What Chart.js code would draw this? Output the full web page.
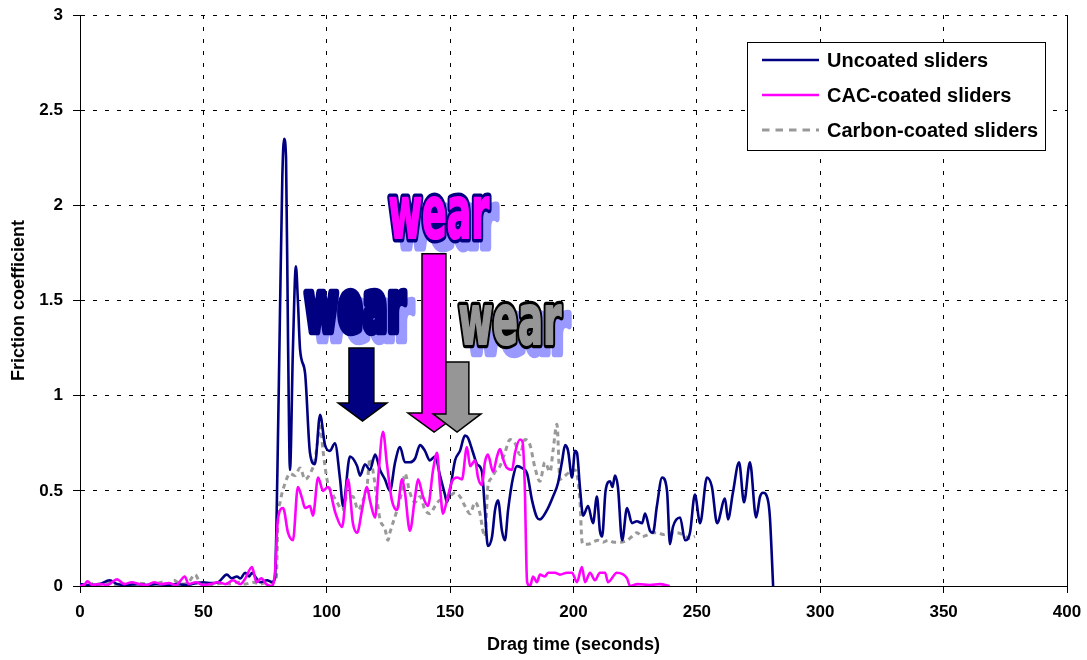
<!DOCTYPE html>
<html>
<head>
<meta charset="utf-8">
<title>Friction coefficient vs drag time</title>
<script src="https://cdn.jsdelivr.net/npm/chart.js@4.4.0/dist/chart.umd.min.js"></script>
<style>
  html, body { margin: 0; padding: 0; background: #ffffff; }
  #wrap { width: 1087px; height: 660px; position: relative; }
</style>
</head>
<body>
<div id="wrap"><canvas id="chart" width="1087" height="660"></canvas></div>
<script>
// ---- measured series (time in seconds, friction coefficient) ----
const uncoatedTime = [0, 4, 8, 12, 15, 19, 23, 27, 31, 35, 39, 43, 47, 50, 53, 56, 59.5, 61.5, 63.6, 65, 66.9, 68.5, 69.7, 71.5, 73, 75.8, 77.8, 79,
  80, 81, 82, 82.7, 83.5, 84.3, 85.1, 86.3, 87.5, 88.3, 89.2, 91.2, 93.2, 95.2, 97.3, 99.3, 101.3, 103.3, 105.4, 106.6, 109.4,
  112.3, 113.5, 115.5, 117.5, 119.6, 121.6, 123.6, 125.6, 127.7, 129.7, 131.7, 133.7, 135.8, 137.8, 139.8, 141.8, 143.9, 145.9,
  147.9, 148.7, 149.9, 152.0, 154.0, 156.0, 157.2, 159.3, 160.9, 162.9, 164.1, 165.3, 167.0, 168.2, 169.4, 171.0, 172.2, 173.5,
  175.5, 177.1, 179.1, 181.2, 183.2, 185.2, 186.4, 189.3, 191.7, 193.7, 195.3, 196.6, 197.8, 199.4, 200.6, 201.4, 202.6, 203.9,
  205.9, 207.9, 209.5, 210.7, 211.6, 213.0, 214.8, 215.8, 216.8, 218.0, 219.7, 221.7, 223.7, 225.7, 227.8, 229.0, 231.0, 232.2,
  233.8, 235.9, 237.9, 239.1, 240.3, 243.2, 245.2, 247.2, 249.2, 251.3, 254.1, 256.1, 258.2, 261.4, 262.6, 264.6, 267.1, 269.1,
  271.5, 274.0, 275.6, 276.8, 278.8, 279.6, 280.9];
const uncoatedFriction = [0.01, 0.005, 0.01, 0.03, 0.01, 0.005, 0.01, 0.005, 0.01, 0.005, 0.01, 0.005, 0.015, 0.02, 0.015, 0.02, 0.06, 0.04, 0.05, 0.04, 0.07, 0.05, 0.07, 0.04, 0.02, 0.03, 0.02, 0.04,
  0.6, 1.4, 2.15, 2.35, 2.25, 1.3, 0.61, 1.25, 1.68, 1.5, 1.24, 1.12, 0.70, 0.64, 0.90, 0.74, 0.71, 0.75, 0.56, 0.42, 0.68,
  0.63, 0.58, 0.64, 0.61, 0.69, 0.61, 0.56, 0.50, 0.65, 0.73, 0.65, 0.65, 0.67, 0.74, 0.71, 0.66, 0.68, 0.58,
  0.48, 0.44, 0.50, 0.66, 0.71, 0.79, 0.78, 0.70, 0.64, 0.60, 0.40, 0.21, 0.26, 0.40, 0.45, 0.29, 0.24, 0.40,
  0.57, 0.63, 0.62, 0.59, 0.45, 0.36, 0.35, 0.40, 0.47, 0.54, 0.65, 0.74, 0.71, 0.57, 0.71, 0.70, 0.52, 0.37,
  0.42, 0.33, 0.47, 0.29, 0.26, 0.50, 0.55, 0.52, 0.58, 0.52, 0.24, 0.41, 0.33, 0.34, 0.33, 0.38, 0.29, 0.28,
  0.42, 0.57, 0.50, 0.22, 0.31, 0.36, 0.24, 0.28, 0.48, 0.33, 0.57, 0.52, 0.33, 0.46, 0.35, 0.49, 0.65, 0.44,
  0.65, 0.36, 0.47, 0.49, 0.45, 0.36, 0.0];

const cacTime = [0, 2, 3, 5, 8, 11, 13, 15, 18, 21, 24, 27, 30, 33, 36, 39, 42.5, 44, 47, 50, 53, 56, 59, 62, 65, 67, 69.7, 71.5, 73.5, 75.5, 77.5, 79.0,
  80.2, 82.3, 84.3, 86.3, 88.3, 90.0, 91.2, 93.2, 94.4, 96.5, 98.5, 100.5, 103.6, 106.2, 108.6, 110.6, 112.3, 114.3, 116.3, 117.5,
  119.6, 120.8, 122.8, 124.4, 126.4, 128.5, 130.5, 131.7, 133.7, 135.8, 137.0, 139.0, 141.0, 143.1, 144.7, 145.9, 147.1, 148.7,
  150.8, 152.8, 154.8, 156.8, 158.1, 160.1, 161.3, 162.9, 164.1, 165.3, 167.4, 169.0, 170.2, 171.4, 173.0, 175.1, 176.3, 178.3,
  179.3, 180.2, 181.2, 182.4, 183.6, 185.2, 186.4, 188.4, 189.7, 192.5, 194.5, 197.4, 199.4, 201.4, 203.4, 204.7, 206.7, 208.7,
  210.7, 212.8, 214.0, 217.6, 221.7, 222.9, 226.0, 231.0, 235.0, 239.0];
const cacFriction = [0.0, 0.01, 0.025, 0.005, 0.01, 0.005, 0.02, 0.035, 0.01, 0.02, 0.01, 0.005, 0.02, 0.01, 0.015, 0.005, 0.05, 0.01, 0.02, 0.005, 0.01, 0.02, 0.01, 0.03, 0.01, 0.04, 0.10, 0.02, 0.04, 0.01, 0.0, 0.07,
  0.35, 0.41, 0.28, 0.24, 0.52, 0.46, 0.41, 0.42, 0.37, 0.57, 0.50, 0.52, 0.38, 0.31, 0.56, 0.33, 0.28, 0.40, 0.52, 0.45,
  0.36, 0.56, 0.81, 0.64, 0.45, 0.40, 0.56, 0.49, 0.29, 0.47, 0.56, 0.47, 0.42, 0.61, 0.70, 0.52, 0.38, 0.45,
  0.55, 0.57, 0.56, 0.73, 0.63, 0.66, 0.57, 0.53, 0.65, 0.69, 0.60, 0.68, 0.72, 0.67, 0.62, 0.61, 0.70, 0.77,
  0.76, 0.55, 0.02, 0.0, 0.05, 0.02, 0.06, 0.05, 0.07, 0.07, 0.06, 0.07, 0.07, 0.02, 0.10, 0.02, 0.07, 0.03,
  0.07, 0.07, 0.02, 0.07, 0.04, 0.0, 0.01, 0.005, 0.01, 0.0];

const carbonTime = [0, 3, 6, 9, 12, 15, 18, 21, 24, 27, 30, 33, 36, 38, 41, 44, 46.6, 49, 52, 55, 58, 61, 64, 67, 70, 73, 76, 78.5, 79.6,
  80.2, 81.1, 83.1, 85.1, 87.1, 89.2, 91.2, 93.2, 95.2, 96.5, 97.3, 98.5, 100.1, 102.1, 104.2, 106.2, 108.2, 110.6, 112.7, 114.7,
  116.3, 117.5, 118.8, 120.4, 121.6, 123.6, 124.8, 125.6, 128.5, 130.5, 131.7, 133.7, 135.8, 137.8, 139.8, 141.8, 143.9, 145.9,
  147.9, 149.9, 152.0, 154.0, 156.0, 158.1, 160.1, 162.1, 163.3, 164.1, 165.3, 167.0, 168.2, 170.2, 172.2, 174.3, 176.3, 178.3,
  180.3, 182.4, 184.4, 186.4, 188.4, 190.5, 191.7, 193.3, 194.5, 196.6, 198.6, 200.6, 202.6, 203.4, 203.9, 205.9, 207.9, 209.9,
  212.0, 214.0, 216.4, 218.8, 221.7, 223.7, 225.7, 227.8, 230.2, 232.2, 234.2, 236.3, 239.1, 241.9, 244.4, 247.2, 249.2];
const carbonFriction = [0.01, 0.0, 0.015, 0.005, 0.02, 0.005, 0.01, 0.0, 0.015, 0.01, 0.005, 0.02, 0.01, 0.03, 0.01, 0.02, 0.06, 0.01, 0.005, 0.01, 0.015, 0.01, 0.02, 0.01, 0.02, 0.01, 0.02, 0.02, 0.05,
  0.35, 0.44, 0.54, 0.59, 0.58, 0.62, 0.56, 0.59, 0.66, 0.78, 0.84, 0.71, 0.56, 0.49, 0.44, 0.40, 0.47, 0.47, 0.40, 0.45,
  0.52, 0.67, 0.60, 0.45, 0.35, 0.30, 0.24, 0.28, 0.40, 0.50, 0.59, 0.49, 0.44, 0.47, 0.40, 0.38, 0.42, 0.45,
  0.44, 0.47, 0.49, 0.47, 0.42, 0.38, 0.44, 0.38, 0.29, 0.26, 0.52, 0.57, 0.60, 0.63, 0.70, 0.77, 0.75, 0.69,
  0.77, 0.74, 0.62, 0.55, 0.65, 0.60, 0.71, 0.85, 0.56, 0.58, 0.60, 0.61, 0.45, 0.24, 0.22, 0.22, 0.23, 0.24,
  0.23, 0.24, 0.23, 0.23, 0.24, 0.26, 0.28, 0.26, 0.27, 0.28, 0.28, 0.27, 0.28, 0.28, 0.27, 0.25, 0.26];

const seriesNames = ['Uncoated sliders', 'CAC-coated sliders', 'Carbon-coated sliders'];
const timeTicks = [0, 50, 100, 150, 200, 250, 300, 350, 400];
const frictionTicks = [0, 0.5, 1, 1.5, 2, 2.5, 3];

const FONT = '"Liberation Sans", Arial, "DejaVu Sans", sans-serif';

function pairs(xs, ys) { return xs.map((x, i) => ({ x: x, y: ys[i] })); }

// ---- "wear" callouts: word art label plus block arrow, placed in data units ----
const wearCallouts = [
  { fill: '#000080', outline: '#000080', text: [90.4, 132.9, 1.555, 1.32],
    arrow: { shaft: [109.0, 119.1], head: [104.6, 124.4], top: 1.25, neck: 0.962, tip: 0.867 } },
  { fill: '#ff00ff', outline: '#000080', text: [124.4, 167.0, 2.055, 1.808],
    arrow: { shaft: [138.6, 148.3], head: [132.9, 154.1], top: 1.745, neck: 0.909, tip: 0.809 } },
  { fill: '#969696', outline: '#000000', text: [152.8, 196.2, 1.492, 1.256],
    arrow: { shaft: [148.3, 157.6], head: [143.1, 162.5], top: 1.177, neck: 0.904, tip: 0.809 } }
];

// Heavy condensed lettering: glyphs are fitted into the box, then thickened by a wide outline stroke.
function drawWordArt(ctx, word, x0, x1, y0, y1, fill, outline, dx, dy) {
  const grow = 2.5;
  x0 += grow; x1 -= grow; y0 += grow; y1 -= grow;
  ctx.save();
  ctx.font = 'bold 80px "Liberation Sans Narrow", "DejaVu Sans Condensed", ' + FONT;
  ctx.textAlign = 'left';
  ctx.textBaseline = 'alphabetic';
  const m = ctx.measureText(word);
  const w = m.actualBoundingBoxLeft + m.actualBoundingBoxRight;
  const h = m.actualBoundingBoxAscent + m.actualBoundingBoxDescent;
  const sx = (x1 - x0) / w, sy = (y1 - y0) / h;
  ctx.translate(x0 + dx + m.actualBoundingBoxLeft * sx, y1 + dy - m.actualBoundingBoxDescent * sy);
  ctx.scale(sx, sy);
  ctx.lineJoin = 'round';
  const k = Math.min(sx, sy);
  ctx.strokeStyle = outline;
  ctx.lineWidth = (grow * 2) / k;
  ctx.strokeText(word, 0, 0);
  ctx.fillStyle = fill;
  ctx.fillText(word, 0, 0);
  if (fill !== outline) {
    ctx.strokeStyle = fill;
    ctx.lineWidth = 1.2 / k;
    ctx.strokeText(word, 0, 0);
  }
  ctx.restore();
}

const wearPlugin = {
  id: 'wearCallouts',
  afterDatasetsDraw(chart) {
    const { ctx, scales: { x, y } } = chart;
    // shadows first, then the letters
    wearCallouts.forEach(c => {
      const [t0, t1, v0, v1] = c.text;
      drawWordArt(ctx, 'wear', x.getPixelForValue(t0), x.getPixelForValue(t1),
        y.getPixelForValue(v0), y.getPixelForValue(v1), '#9999ff', '#9999ff', 8, 9);
    });
    wearCallouts.forEach(c => {
      const [t0, t1, v0, v1] = c.text;
      drawWordArt(ctx, 'wear', x.getPixelForValue(t0), x.getPixelForValue(t1),
        y.getPixelForValue(v0), y.getPixelForValue(v1), c.fill, c.outline, 0, 0);
    });
    wearCallouts.forEach(c => {
      const a = c.arrow;
      const sL = x.getPixelForValue(a.shaft[0]), sR = x.getPixelForValue(a.shaft[1]);
      const hL = x.getPixelForValue(a.head[0]), hR = x.getPixelForValue(a.head[1]);
      const tipX = (hL + hR) / 2;
      const top = y.getPixelForValue(a.top), neck = y.getPixelForValue(a.neck), tip = y.getPixelForValue(a.tip);
      ctx.save();
      ctx.beginPath();
      ctx.moveTo(sL, top);
      ctx.lineTo(sR, top);
      ctx.lineTo(sR, neck);
      ctx.lineTo(hR, neck);
      ctx.lineTo(tipX, tip);
      ctx.lineTo(hL, neck);
      ctx.lineTo(sL, neck);
      ctx.closePath();
      ctx.fillStyle = c.fill;
      ctx.fill();
      ctx.lineWidth = 1.5;
      ctx.strokeStyle = '#000000';
      ctx.lineJoin = 'miter';
      ctx.stroke();
      ctx.restore();
    });
  }
};

// ---- right-hand frame edge and boxed legend ----
const framePlugin = {
  id: 'frameAndLegend',
  afterDraw(chart) {
    const { ctx, chartArea: a } = chart;
    ctx.save();
    ctx.strokeStyle = '#000000';
    ctx.lineWidth = 1;
    ctx.beginPath();
    ctx.moveTo(Math.round(a.right) + 0.5, a.top);
    ctx.lineTo(Math.round(a.right) + 0.5, a.bottom);
    ctx.stroke();

    const bx = a.right - 320, by = a.top + 27, bw = 298, bh = 108;
    ctx.fillStyle = '#ffffff';
    ctx.fillRect(bx, by, bw, bh);
    ctx.strokeRect(bx + 0.5, by + 0.5, bw, bh);
    ctx.font = 'bold 20px ' + FONT;
    ctx.textBaseline = 'middle';
    ctx.textAlign = 'left';
    chart.data.datasets.forEach((ds, i) => {
      const ry = by + 18 + i * 35;
      ctx.save();
      ctx.strokeStyle = ds.borderColor;
      ctx.lineWidth = ds.borderWidth;
      ctx.setLineDash((ds.borderDash || []).map(d => d * 1.5));
      ctx.beginPath();
      ctx.moveTo(bx + 15, ry);
      ctx.lineTo(bx + 72, ry);
      ctx.stroke();
      ctx.restore();
      ctx.fillStyle = '#000000';
      ctx.fillText(ds.label, bx + 80, ry + 1);
    });
    ctx.restore();
  }
};

const axisFont = { family: FONT, size: 17, weight: 'bold' };
const titleFont = { family: FONT, size: 18, weight: 'bold' };

new Chart(document.getElementById('chart'), {
  type: 'line',
  data: {
    datasets: [
      { label: seriesNames[0], data: pairs(uncoatedTime, uncoatedFriction), borderColor: '#000080',
        borderWidth: 2.6, order: 1 },
      { label: seriesNames[1], data: pairs(cacTime, cacFriction), borderColor: '#ff00ff',
        borderWidth: 2.6, order: 0 },
      { label: seriesNames[2], data: pairs(carbonTime, carbonFriction), borderColor: '#999999',
        borderWidth: 3, borderDash: [5, 4], order: 2 }
    ]
  },
  options: {
    responsive: false,
    animation: false,
    devicePixelRatio: 1,
    layout: { padding: { left: 0, right: 20, top: 15, bottom: 0 } },
    elements: {
      point: { radius: 0, hoverRadius: 0 },
      line: { cubicInterpolationMode: 'monotone', fill: false, borderCapStyle: 'butt', borderJoinStyle: 'round' }
    },
    plugins: { legend: { display: false }, tooltip: { enabled: false } },
    scales: {
      x: {
        type: 'linear', min: 0, max: 400,
        afterBuildTicks(s) { s.ticks = timeTicks.map(v => ({ value: v })); },
        ticks: { color: '#000', font: axisFont, padding: 9, maxRotation: 0, autoSkip: false,
          callback: v => String(v) },
        grid: { color: '#000', lineWidth: 1, tickLength: 7, tickColor: '#000', tickWidth: 1 },
        border: { color: '#000', width: 1, dash: [4, 8] },
        title: { display: true, text: 'Drag time (seconds)', color: '#000', font: titleFont, padding: { top: 0, bottom: 4 } },
        afterFit(s) { s.height = 74; s.paddingLeft = 0; s.paddingRight = 0; }
      },
      y: {
        type: 'linear', min: 0, max: 3,
        afterBuildTicks(s) { s.ticks = frictionTicks.map(v => ({ value: v })); },
        ticks: { color: '#000', font: axisFont, padding: 10, autoSkip: false,
          callback: v => String(v) },
        grid: { color: '#000', lineWidth: 1, tickLength: 7, tickColor: '#000', tickWidth: 1 },
        border: { color: '#000', width: 1, dash: [4, 8] },
        title: { display: true, text: 'Friction coefficient', color: '#000', font: titleFont, padding: { top: 8, bottom: 0 } },
        afterFit(s) { s.width = 80; s.paddingTop = 0; s.paddingBottom = 0; }
      }
    }
  },
  plugins: [wearPlugin, framePlugin]
});
</script>
</body>
</html>
